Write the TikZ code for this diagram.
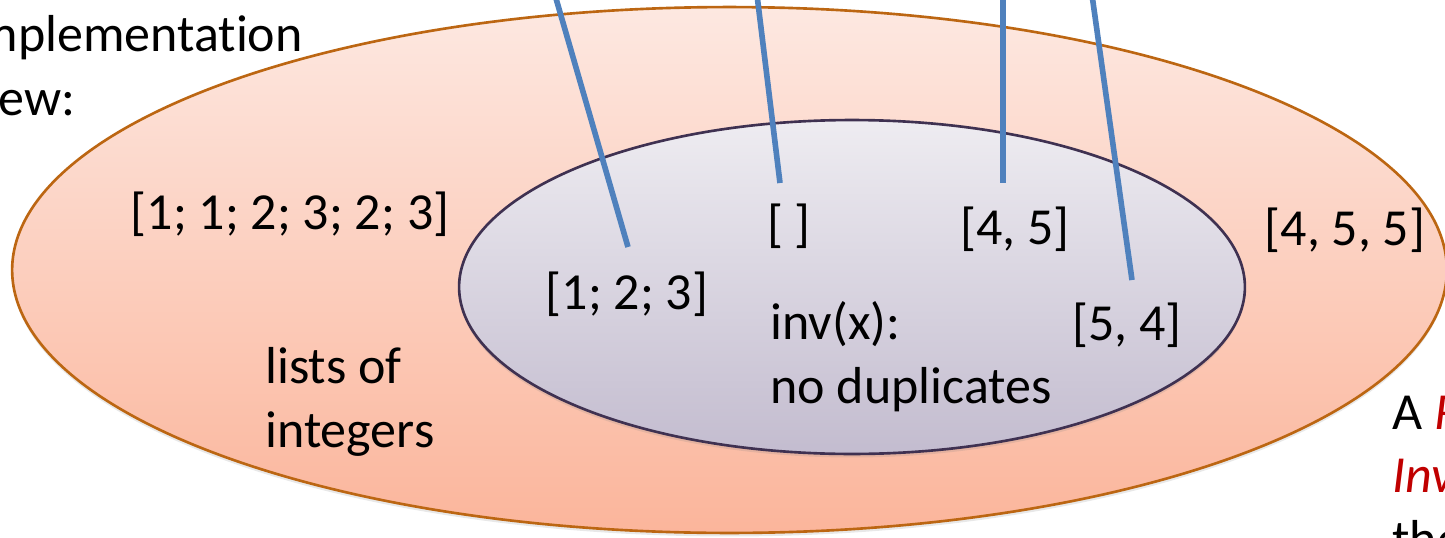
\documentclass[tikz,border=0pt]{standalone}
\usepackage{fontspec}
\setmainfont{Carlito}[Ligatures=NoCommon]
\usetikzlibrary{shapes.geometric,shadows}
\definecolor{outeredge}{HTML}{BC6612}
\definecolor{outertop}{HTML}{FDE8E1}
\definecolor{outerbot}{HTML}{FBB59B}
\definecolor{inneredge}{HTML}{3F3151}
\definecolor{innertop}{HTML}{EEECF1}
\definecolor{innerbot}{HTML}{C3BCCF}
\definecolor{ptrblue}{HTML}{4F81BD}
\definecolor{rired}{HTML}{C00000}

\begin{document}
\begin{tikzpicture}[
 x=0.02cm,y=-0.02cm,
 font=\fontsize{29.6}{35.9}\selectfont,
 set/.style={ellipse,inner sep=0pt,line width=1.5pt,
 drop shadow={shadow xshift=0pt,shadow yshift=-2pt,opacity=0.18}},
 val/.style={inner sep=0pt},
 txt/.style={inner sep=0pt,align=left,anchor=base west},
 ptr/.style={line width=3.2pt,draw=ptrblue}]
\useasboundingbox (0,0) rectangle (1445,538);
\node[set,draw=outeredge,top color=outertop,bottom color=outerbot,
 minimum width=28.7cm,minimum height=10.52cm] (ints) at (729.5,270) {};
\node[set,draw=inneredge,top color=innertop,bottom color=innerbot,
 minimum width=15.72cm,minimum height=6.68cm] (nodup) at (852,287) {};
% multi-line texts: the anchor sits on the last baseline
\node[txt] (view) at (-37,115) {Implementation\\view:};
\node[val] (l112323) at (290,214) {[1; 1; 2; 3; 2; 3]};
\node[val] (l123) at (627,294) {[1; 2; 3]};
\node[val] (lnil) at (789,226) {[ ]};
\node[val] (l45) at (1015,229) {[4, 5]};
\node[val] (l54) at (1127,325) {[5, 4]};
\node[val] (l455) at (1345,230) {[4, 5, 5]};
\node[txt] (inv) at (770,403) {inv(x):\\no duplicates};
\node[txt] (intlabel) at (265,447) {lists of\\integers};
\node[txt] (repinv) at (1392,556) {A {\color{rired}\itshape Representation}\\
 {\color{rired}\itshape Invariant}\\the};
% pointers from above
\coordinate (t1) at (555,-5); \coordinate (e1) at (628,247);
\coordinate (t2) at (757,-5); \coordinate (e2) at (780,183);
\coordinate (t3) at (1003,-5); \coordinate (e3) at (1003,183);
\coordinate (t4) at (1092,-5); \coordinate (e4) at (1132,280);
\foreach \a/\b in {t1/e1,t2/e2,t3/e3,t4/e4}
 \draw[ptr] (\a)--(\b);
\end{tikzpicture}
\end{document}
